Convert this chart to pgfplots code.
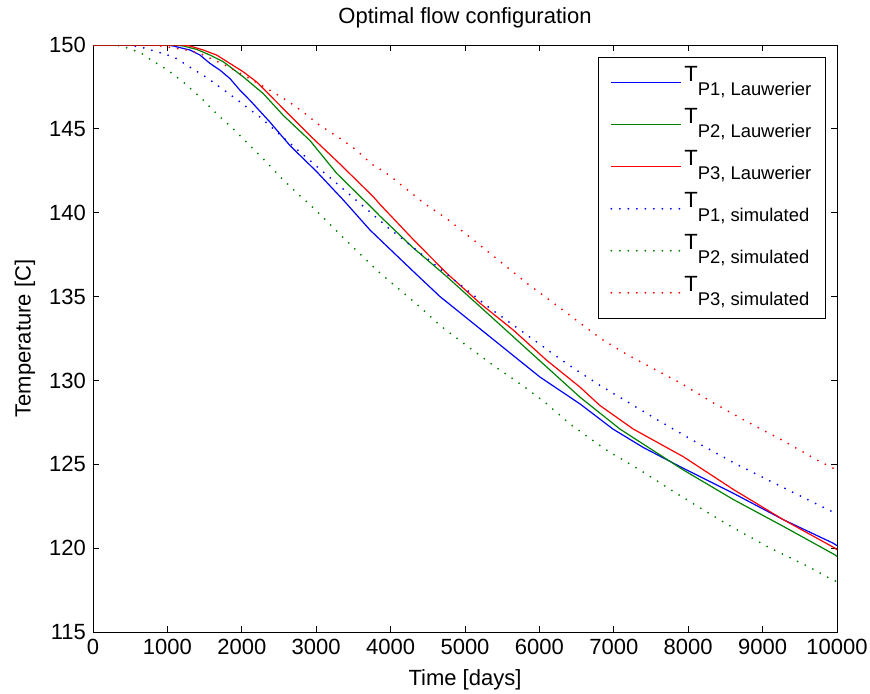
\documentclass[border=0pt]{standalone}
\usepackage{pgfplots}
\pgfplotsset{compat=1.18}
\usepackage{fontspec}
\setmainfont{Liberation Sans}
\definecolor{mblue}{rgb}{0,0,1}
\definecolor{mgreen}{rgb}{0,0.5,0}
\definecolor{mred}{rgb}{1,0,0}
\newcommand{\leg}[2]{T\raisebox{-7pt}{\fontsize{9.2}{10}\selectfont #1, #2}}
\begin{document}
\begin{tikzpicture}
\useasboundingbox (-46.5pt,-30.5pt) rectangle (388.5pt,316pt);
\begin{axis}[
  scale only axis, width=372pt, height=293.5pt,
  xmin=0, xmax=10000, ymin=115, ymax=150,
  clip mode=individual,
  xtick={0,1000,...,10000}, ytick={115,120,...,150},
  scaled x ticks=false,
  /pgf/number format/1000 sep={},
  /pgf/number format/assume math mode=true,
  tick align=inside, tick pos=both, major tick length=3pt,
  axis line style={line width=0.5pt}, tick style={line width=0.5pt,black},
  tick label style={font=\fontsize{11}{13}\selectfont},
  xlabel={Time [days]},
  xlabel style={at={(axis description cs:0.5,-0.0818)}, anchor=center, font=\fontsize{11}{13}\selectfont},
  ylabel={Temperature [C]},
  ylabel style={at={(axis description cs:-0.0914,0.5)}, anchor=center, rotate=0, font=\fontsize{11}{13}\selectfont},
  legend style={at={(0.985,0.980)}, anchor=north east, draw=black, line width=0.5pt,
    font=\fontsize{11}{13}\selectfont, inner xsep=6pt, inner ysep=3.25pt, row sep=2pt,
    nodes={inner sep=1pt, text height=8pt, text depth=9pt}},
  legend cell align=left,
  legend image code/.code={\draw[#1] (0pt,0pt) -- (35pt,0pt);},
  dotted style/.style={line width=1pt, line cap=round, dash pattern=on 0pt off 4.25pt},
]
\addplot[mblue, line width=0.6pt] coordinates {
(0,150) (1000,150) (1079,149.94) (1304,149.7) (1438,149.4) (1573,148.9) (1707,148.5)
(1841,148.0) (1976,147.3) (2110,146.7) (2379,145.4) (2648,144.0) (3006,142.45)
(3364,140.76) (3723,138.97) (3857,138.4) (4305,136.5) (4664,135.0) (5112,133.4)
(5560,131.8) (6008,130.2) (6546,128.6) (6989,127.1) (7397,126.0) (7935,124.76)
(8607,123.27) (9278,121.7) (9946,120.3) (10000,120.15)};
\addlegendentry{\leg{P1}{Lauwerier}}
\addplot[mgreen, line width=0.6pt] coordinates {
(0,150) (1100,150) (1214,149.94) (1393,149.74) (1573,149.4) (1752,149.0) (2020,148.1)
(2289,147.1) (2558,145.8) (2917,144.3) (3275,142.35) (3723,140.4) (3857,139.8)
(4305,137.9) (4753,136.2) (5202,134.4) (5650,132.6) (6098,130.8) (6546,129.0)
(7083,127.1) (7397,126.2) (7935,124.66) (8607,122.9) (9278,121.3) (9973,119.6) (10000,119.5)};
\addlegendentry{\leg{P2}{Lauwerier}}
\addplot[mred, line width=0.6pt] coordinates {
(0,150) (1200,150) (1304,149.94) (1483,149.7) (1662,149.4) (1841,148.9) (2020,148.4)
(2199,147.8) (2379,147.0) (2558,146.2) (2917,144.6) (3320,142.9) (3768,140.95)
(3857,140.5) (4305,138.4) (4753,136.4) (5202,134.6) (5650,133.0) (6098,131.2)
(6546,129.6) (6815,128.5) (7262,127.1) (7935,125.45) (8607,123.5) (9278,121.7)
(9973,120.0) (10000,119.9)};
\addlegendentry{\leg{P3}{Lauwerier}}
\addplot[mblue, dotted style] coordinates {
(0,150) (400,150) (632,149.9) (1079,149.3) (1550,148.0) (1886,146.9) (2245,145.7)
(2603,144.3) (3275,141.75) (3969,139.1) (5336,134.3) (6367,131.0) (6815,129.7)
(7643,127.5) (8114,126.3) (8673,124.95) (9256,123.66) (9937,122.17) (10000,122.05)};
\addlegendentry{\leg{P1}{simulated}}
\addplot[mgreen, dotted style] coordinates {
(0,150) (300,150) (408,149.9) (542,149.7) (654,149.5) (766,149.15) (990,148.55)
(1237,147.7) (1461,146.8) (1685,145.8) (1909,144.9) (2133,143.9) (2335,143.0)
(2536,142.05) (2759,141.1) (2984,140.2) (3208,139.2) (3320,138.7) (3857,136.4)
(4350,134.55) (4686,133.2) (5044,132.0) (5380,130.9) (5739,129.8) (6075,128.7)
(6411,127.4) (6882,125.9) (7352,124.66) (7912,123.07) (8495,121.5) (9059,120.1)
(9637,118.85) (9874,118.26) (10000,118.0)};
\addlegendentry{\leg{P2}{simulated}}
\addplot[mred, dotted style] coordinates {
(0,150) (800,150) (990,149.9) (1257,149.7) (1438,149.5) (1774,148.8) (2066,148.1)
(2379,147.3) (2603,146.7) (2827,146.0) (3051,145.2) (3298,144.5) (3522,143.8)
(3746,142.9) (3978,142.25) (4103,141.8) (4440,140.6) (4798,139.5) (5134,138.3)
(5470,137.1) (5829,135.8) (6165,134.7) (6523,133.5) (6859,132.4) (7195,131.5)
(7890,129.86) (8360,128.6) (8808,127.5) (9278,126.4) (9735,125.25) (10000,124.65)};
\addlegendentry{\leg{P3}{simulated}}
\node[font=\fontsize{11}{13}\selectfont, anchor=center] at (rel axis cs:0.5,1.046) {Optimal flow configuration};
\end{axis}
\end{tikzpicture}
\end{document}
